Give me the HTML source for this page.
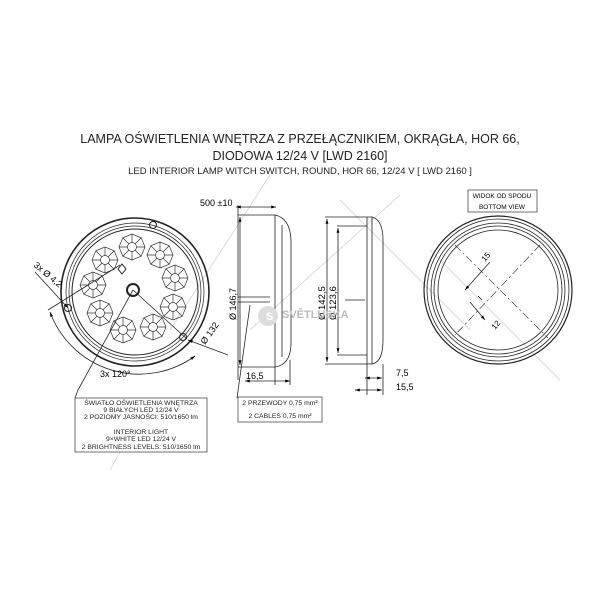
<!DOCTYPE html>
<html><head><meta charset="utf-8"><style>
html,body{margin:0;padding:0;background:#fff;}
svg{display:block;font-family:"Liberation Sans",sans-serif;}
</style></head><body>
<svg width="600" height="600" viewBox="0 0 600 600" xmlns="http://www.w3.org/2000/svg">
<defs>
<marker id="a" viewBox="0 0 10 10" refX="10" refY="5" markerWidth="6" markerHeight="6" orient="auto-start-reverse"><path d="M0,2 L10,5 L0,8z" fill="#000"/></marker>
<g id="oct" fill="none" stroke="#333" stroke-width="0.7">
<polygon points="13,0 9.2,9.2 0,13 -9.2,9.2 -13,0 -9.2,-9.2 0,-13 9.2,-9.2"/>
<circle r="4.5"/>
<path d="M4.5,0L13,0M3.2,3.2L9.2,9.2M0,4.5L0,13M-3.2,3.2L-9.2,9.2M-4.5,0L-13,0M-3.2,-3.2L-9.2,-9.2M0,-4.5L0,-13M3.2,-3.2L9.2,-9.2"/>
</g>
</defs>
<g stroke="#ccc" stroke-width="0.7">
<line x1="270" y1="175" x2="170" y2="330"/>
<line x1="340" y1="200" x2="470" y2="330"/>
<line x1="400" y1="195" x2="250" y2="330"/>
<line x1="430" y1="250" x2="560" y2="380"/>
<line x1="150" y1="400" x2="110" y2="470"/>
</g>
<g text-anchor="middle" fill="#222">
<text x="300" y="143" font-size="12.5">LAMPA OŚWIETLENIA WNĘTRZA Z PRZEŁĄCZNIKIEM, OKRĄGŁA, HOR 66,</text>
<text x="300" y="160" font-size="12.5">DIODOWA 12/24 V [LWD 2160]</text>
<text x="300" y="174" font-size="9.5">LED INTERIOR LAMP WITCH SWITCH, ROUND, HOR 66, 12/24 V [ LWD 2160 ]</text>
</g>
<g fill="none" stroke="#222">
<circle cx="135" cy="292" r="74" stroke-width="1.6"/>
<circle cx="135" cy="292" r="69" stroke-width="0.7"/>
<circle cx="135" cy="292" r="66" stroke-width="0.7"/>
<circle cx="135" cy="292" r="63" stroke-width="1"/>
<circle cx="133" cy="290" r="6" stroke-width="2"/>
<circle cx="153" cy="225" r="3.5" stroke-width="1"/>
<circle cx="68" cy="308" r="3.5" stroke-width="1"/>
<circle cx="183" cy="337" r="3.5" stroke-width="1"/>
</g>
<use href="#oct" x="132" y="247"/><use href="#oct" x="160" y="255"/><use href="#oct" x="175" y="278"/>
<use href="#oct" x="173" y="307"/><use href="#oct" x="153" y="327"/><use href="#oct" x="123" y="330"/>
<use href="#oct" x="100" y="313"/><use href="#oct" x="93" y="285"/><use href="#oct" x="105" y="260"/>
<path d="M118,269 l4,-5 l4,5 l-4,5z" fill="none" stroke="#222"/>
<g stroke="#222" stroke-width="0.8" fill="none">
<line x1="35" y1="272" x2="68" y2="308" marker-end="url(#a)"/>
<line x1="133" y1="290" x2="187" y2="339"/>
<line x1="228" y1="355" x2="188" y2="340" marker-end="url(#a)"/>
<line x1="133" y1="290" x2="78" y2="390"/>
<line x1="120" y1="265" x2="48" y2="310"/>
<path d="M50,312 A95,95 0 0 0 195,356" marker-start="url(#a)" marker-end="url(#a)"/>
<line x1="78" y1="390" x2="75" y2="398"/>
</g>
<text x="33" y="266" font-size="9" transform="rotate(40 33 266)">3x Ø 4,2</text>
<text x="205" y="345" font-size="9" transform="rotate(-55 205 345)">Ø 132</text>
<text x="100" y="377" font-size="9">3x  120°</text>
<g fill="none" stroke="#222" stroke-width="0.8">
<path d="M238,215 L275,215 Q290,218 291,240 L291,345 Q290,365 275,367 L238,367"/>
<path d="M275,215 L275,367"/>
<line x1="282" y1="225" x2="282" y2="357"/>
<line x1="238" y1="297" x2="270" y2="297"/><line x1="238" y1="302" x2="270" y2="302"/>
<line x1="238" y1="205" x2="238" y2="380"/>
<line x1="236" y1="207" x2="276" y2="207" marker-start="url(#a)" marker-end="url(#a)"/>
<line x1="240" y1="217" x2="240" y2="365" marker-start="url(#a)" marker-end="url(#a)"/>
<line x1="245" y1="381" x2="290" y2="381" marker-start="url(#a)" marker-end="url(#a)"/>
<line x1="275" y1="367" x2="275" y2="385"/><line x1="290" y1="360" x2="290" y2="385"/>
<line x1="250" y1="305" x2="237" y2="398"/>
</g>
<text x="200" y="206" font-size="9">500 ±10</text>
<text x="236" y="320" font-size="9" transform="rotate(-90 236 320)">Ø 146,7</text>
<text x="246" y="379" font-size="9">16,5</text>
<g fill="none" stroke="#222" stroke-width="0.8">
<path d="M325,217 L372,217 Q383,220 383,240 L383,340 Q383,362 372,364 L325,364"/>
<line x1="367" y1="217" x2="367" y2="364"/>
<line x1="372" y1="217" x2="372" y2="364"/>
<line x1="337" y1="226" x2="367" y2="226"/><line x1="337" y1="355" x2="367" y2="355"/>
<line x1="327" y1="219" x2="327" y2="362" marker-start="url(#a)" marker-end="url(#a)"/>
<line x1="338" y1="228" x2="338" y2="353" marker-start="url(#a)" marker-end="url(#a)"/>
<line x1="345" y1="300" x2="365" y2="300"/>
<line x1="365" y1="378" x2="382" y2="378" marker-start="url(#a)" marker-end="url(#a)"/>
<line x1="355" y1="390" x2="382" y2="390" marker-start="url(#a)" marker-end="url(#a)"/>
<line x1="367" y1="364" x2="367" y2="395"/><line x1="383" y1="364" x2="383" y2="395"/>
</g>
<text x="325" y="320" font-size="9.5" transform="rotate(-90 325 320)">Ø 142,5</text>
<text x="336" y="320" font-size="9.5" transform="rotate(-90 336 320)">Ø 123,6</text>
<text x="396" y="376" font-size="9">7,5</text>
<text x="396" y="390" font-size="9">15,5</text>
<circle cx="268" cy="316" r="10" fill="#ddd"/>
<text x="266" y="320" font-size="11" fill="#fff" font-weight="bold">S</text>
<text x="282" y="318" font-size="11" font-weight="bold" fill="#bbb">SVĚTLUSKA</text>
<rect x="468" y="190" width="69" height="22" fill="#fff" stroke="#333" stroke-width="0.7"/>
<text x="502" y="198" font-size="6.5" text-anchor="middle">WIDOK OD SPODU</text>
<text x="502" y="209" font-size="6.5" text-anchor="middle">BOTTOM VIEW</text>
<g fill="none" stroke="#222" stroke-width="0.8">
<circle cx="498" cy="290" r="74" stroke-width="1.2"/>
<circle cx="498" cy="290" r="71"/>
<circle cx="498" cy="290" r="67"/>
<circle cx="498" cy="290" r="64"/>
<circle cx="498" cy="290" r="60"/>
<g stroke-dasharray="8,3,2,3" stroke-width="0.6">
<line x1="455" y1="245" x2="548" y2="338"/>
<line x1="540" y1="245" x2="455" y2="335"/>
</g>
<line x1="465" y1="290" x2="490" y2="262" marker-start="url(#a)"/>
<line x1="470" y1="302" x2="485" y2="320" marker-end="url(#a)"/>
<line x1="478" y1="296" x2="482" y2="300"/>
</g>
<text x="485" y="262" font-size="8" transform="rotate(-50 485 262)">15</text>
<text x="495" y="330" font-size="8" transform="rotate(-50 495 330)">12</text>
<rect x="75" y="398" width="132" height="54" fill="#fff" stroke="#333" stroke-width="0.7"/>
<g font-size="6.8" text-anchor="middle" fill="#222">
<text x="141" y="405">ŚWIATŁO OŚWIETLENIA WNĘTRZA</text>
<text x="141" y="412">9 BIAŁYCH LED 12/24 V</text>
<text x="141" y="419">2 POZIOMY JASNOŚCI:  510/1650 lm</text>
<text x="141" y="434">INTERIOR LIGHT</text>
<text x="141" y="441">9×WHITE LED 12/24 V</text>
<text x="141" y="449">2 BRIGHTNESS LEVELS:  510/1650 lm</text>
</g>
<rect x="238" y="397" width="84" height="25" fill="#fff" stroke="#333" stroke-width="0.7"/>
<g font-size="6.8" text-anchor="middle" fill="#222">
<text x="280" y="405">2 PRZEWODY 0,75 mm²</text>
<text x="280" y="418">2 CABLES 0,75 mm²</text>
</g>
</svg>
</body></html>
